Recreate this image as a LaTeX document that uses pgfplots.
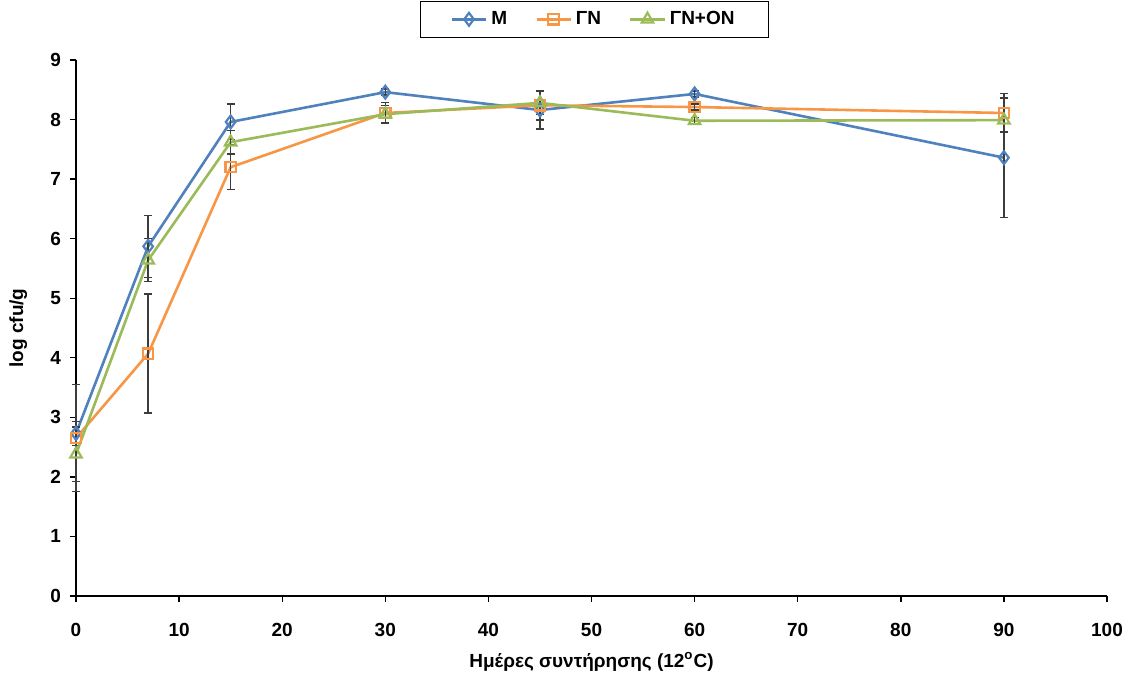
\documentclass[border=0pt]{standalone}
\usepackage{fontspec}
\setmainfont{Liberation Sans}
\usepackage{pgfplots}
\usepackage{pgfplotstable}
\pgfplotsset{compat=1.18}
\definecolor{cM}{RGB}{79,129,189}
\definecolor{cG}{RGB}{247,150,70}
\definecolor{cO}{RGB}{155,187,89}
\definecolor{errc}{RGB}{60,60,60}

\pgfplotstableread{
x y e
0 2.73 0.20
7 5.87 0.52
15 7.96 0.30
30 8.46 0.05
45 8.16 0.32
60 8.43 0.05
90 7.36 1.00
}\tabM
\pgfplotstableread{
x y e
0 2.65 0.90
7 4.07 1.00
15 7.20 0.37
30 8.11 0.18
45 8.24 0.25
60 8.21 0.05
90 8.11 0.33
}\tabG
\pgfplotstableread{
x y e
0 2.38 0.46
7 5.64 0.36
15 7.62 0.20
30 8.09 0.15
45 8.28 0.20
60 7.98 0.05
90 7.99 0.20
}\tabO

\begin{document}
\begin{tikzpicture}[x=1pt,y=1pt]
\begin{axis}[name=ax, at={(0,0)}, anchor=south west, scale only axis,
  width=515.5pt, height=268pt,
  xmin=0, xmax=100, ymin=0, ymax=9, clip=false,
  xtick={0,10,...,100}, ytick={0,1,...,9},
  axis lines=left, axis line style={-, line width=0.7pt},
  tick align=outside, major tick length=3pt,
  tick style={black, line width=0.7pt},
  /pgf/number format/assume math mode=true,
  ticklabel style={font=\fontsize{9.5}{11}\selectfont\bfseries},
  xticklabel style={yshift=-7pt},
  yticklabel style={xshift=-1pt},
  xlabel={Ημέρες συντήρησης (12\textsuperscript{o}C)},
  ylabel={log cfu/g},
  xlabel style={font=\fontsize{9.5}{11}\selectfont\bfseries, at={(axis description cs:0.5,-0.123)}, anchor=center},
  ylabel style={font=\fontsize{9.5}{11}\selectfont\bfseries, at={(axis description cs:-0.056,0.5)}, anchor=center},
  legend columns=3,
  legend style={at={(axis description cs:0.503,1.041)}, anchor=south,
    draw=black, line width=0.6pt, fill=white,
    font=\fontsize{9.5}{11}\selectfont\bfseries,
    inner xsep=15pt, inner ysep=3pt,
    /tikz/every even column/.append style={column sep=12pt}},
  legend image code/.code={
    \draw[mark repeat=2, mark phase=2] plot coordinates {(0cm,0cm) (0.3cm,0cm) (0.6cm,0cm)};},
  legend cell align=left,
  error bars/y dir=both, error bars/y explicit,
  error bars/error bar style={errc, line width=0.7pt},
  error bars/error mark options={rotate=90, mark size=2pt, errc, line width=0.7pt},
]
\addplot[cM, line width=1.3pt, mark=diamond, mark size=3.2pt, mark options={fill=white, line width=1.1pt}]
  table[x=x, y=y, y error=e] {\tabM};
\addlegendentry{M}
\addplot[cG, line width=1.3pt, mark=square, mark size=2.6pt, mark options={fill=white, line width=1.1pt}]
  table[x=x, y=y, y error=e] {\tabG};
\addlegendentry{ΓΝ}
\addplot[cO, line width=1.3pt, mark=triangle, mark size=3.3pt, mark options={fill=white, line width=1.1pt}]
  table[x=x, y=y, y error=e] {\tabO};
\addlegendentry{ΓΝ+ΟΝ}
\end{axis}
\pgfresetboundingbox
\path[use as bounding box] (-38,-41.5) rectangle (528.5,298);
\end{tikzpicture}
\end{document}
